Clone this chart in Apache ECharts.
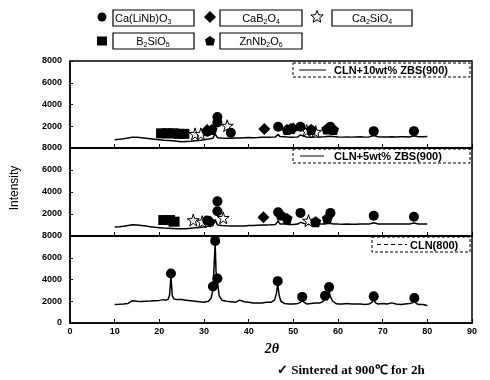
<!DOCTYPE html>
<html><head><meta charset="utf-8">
<script src="https://cdn.jsdelivr.net/npm/echarts@6/dist/echarts.min.js"></script>
<style>html,body{margin:0;padding:0;background:#fff}#c{width:490px;height:380px}</style>
</head><body><div id="c"></div>
<script>
// ---------- DATA ----------
var xTicks = [0,10,20,30,40,50,60,70,80,90];
var yTicks = [0,2000,4000,6000,8000];
var seriesNames = ['CLN+10wt% ZBS(900)','CLN+5wt% ZBS(900)','CLN(800)'];
var phaseNames = ['Ca(LiNb)O3','CaB2O4','Ca2SiO4','B2SiO5','ZnNb2O6'];

// CLN(800)
var cln800X = [10,11,12,13,14,15,16,17,18,19,20,21,21.5,22,22.3,22.6,22.9,23.3,24,25,26,27,28,29,30,31,31.6,32.0,32.3,32.5,32.7,33.0,33.4,34,35,36,37,38,39,40,41,42,43,44,45,45.8,46.2,46.5,46.8,47.2,48,49,50,51,51.6,52,52.4,53,54,55,56,56.7,57.1,57.6,58.0,58.3,58.8,59.5,60,61,62,63,64,65,66,67,67.6,68,68.4,69,70,71,72,73,74,75,76,76.7,77.1,77.5,78,79,80];
var cln800Y = [1700,1720,1750,1800,2050,2000,1980,2000,2020,2050,2080,2150,2100,2200,2600,4300,2500,2200,2150,2150,2100,2050,2000,1950,1900,2000,2300,3100,3000,7300,4700,3800,2500,2100,2000,1950,1900,2100,1950,1900,1850,1850,1850,1900,1900,2100,2700,3600,2600,2000,1800,1750,1750,1800,1900,2150,1900,1750,1800,1850,1850,2000,2300,2100,3000,2400,2000,1800,1750,1750,1800,1750,1750,1750,1700,1750,1900,2200,1850,1750,1800,1750,1850,1750,1700,1750,1800,1850,2050,1800,1700,1700,1600];

// CLN+5wt% ZBS(900)
var cln5X = [10,11,12,13,14,15,16,17,18,19,20,21,22,23,24,25,26,27,28,29,30,31,32,32.5,33,34,35,36,37,38,39,40,41,42,43,44,45,46,46.6,47,48,49,50,51,51.6,52,53,54,55,56,57,58,58.3,59,60,61,62,63,64,65,66,67,68,69,70,71,72,73,74,75,76,77,78,79,80];
var cln5Y = [820,840,880,950,1020,1000,960,900,850,800,760,720,700,680,660,650,660,700,740,780,820,880,950,1500,1000,950,930,920,900,900,920,950,960,980,1000,1000,1020,1050,1350,1100,1080,1050,1050,1080,1250,1080,1060,1050,1070,1080,1100,1150,1300,1100,1080,1070,1080,1060,1070,1080,1090,1100,1200,1100,1080,1090,1100,1080,1090,1100,1100,1180,1100,1090,1100];

// CLN+10wt% ZBS(900)
var cln10X = [10,11,12,13,14,15,16,17,18,19,20,21,22,23,24,25,26,27,28,29,30,31,32,32.5,33,34,35,36,37,38,39,40,41,42,43,44,45,46,46.6,47,48,49,50,51,51.6,52,53,54,55,56,57,58,58.3,59,60,61,62,63,64,65,66,67,68,69,70,71,72,73,74,75,76,77,78,79,80];
var cln10Y = [760,800,850,930,1000,990,950,900,850,800,760,720,690,660,620,580,600,620,660,700,750,820,900,1300,950,920,900,900,920,930,950,960,950,960,980,1000,1000,1020,1250,1050,1030,1000,1000,1020,1200,1030,1000,980,1000,1010,1030,1080,1250,1050,1020,1000,1010,1000,1020,1030,1000,1020,1150,1030,1010,1020,1030,1010,1030,1040,1020,1120,1030,1040,1050];

// phase markers [2theta, intensity] per panel
var m10_CLN  = [[33,2850],[33,2350],[30.7,1500],[36,1400],[46.6,1950],[51.6,1950],[58.3,1950],[68,1550],[77,1550]];
var m10_CaB  = [[30.7,1650],[43.5,1750],[50,1800]];
var m10_CaSi = [[28,1300],[29.3,1300],[35.2,2050],[53,1600],[55,1500]];
var m10_BSi  = [[20.5,1350],[21.8,1350],[23.1,1350],[24.4,1300],[25.5,1300]];
var m10_ZnNb = [[31.8,1700],[48.6,1700],[49.5,1800],[57.5,1750],[59,1700],[54,1700]];

var m5_CLN  = [[33,3150],[33,2250],[30.7,1400],[46.6,2150],[51.6,2100],[58.3,2100],[68,1850],[77,1750]];
var m5_CaB  = [[31.4,1300],[43.3,1700]];
var m5_CaSi = [[27.6,1450],[29.6,1300],[34.3,1650],[53.4,1400]];
var m5_BSi  = [[21,1450],[22.3,1450],[23.3,1300]];
var m5_ZnNb = [[48.6,1600],[57.6,1600],[55,1300],[47.2,1900]];

var m800_CLN = [[22.6,4550],[32.5,7550],[32.0,3350],[33.0,4100],[46.5,3850],[52,2400],[57.1,2500],[58.0,3300],[68,2450],[77.1,2300]];

// ---------- CHART ----------
function zip(a,b){var r=[];for(var i=0;i<a.length;i++)r.push([a[i],b[i]]);return r;}
var STAR='path://M50,0 L61,35 L98,35 L68,57 L79,91 L50,70 L21,91 L32,57 L2,35 L39,35 Z';
var PENT='path://M50,0 L98,36 L80,95 L20,95 L2,36 Z';
var symDef = {
  CLN:{symbol:'circle',size:10,fill:'#000'},
  CaB:{symbol:'diamond',size:12,fill:'#000'},
  CaSi:{symbol:STAR,size:12,fill:'#fff'},
  BSi:{symbol:'rect',size:[11,10],fill:'#000'},
  ZnNb:{symbol:PENT,size:11,fill:'#000'}
};
var grids=[{left:70,right:18,top:61,height:87},{left:70,right:18,top:148,height:88},{left:70,right:18,top:236,height:87}];
var lab={fontFamily:'Liberation Sans',fontWeight:'bold',fontSize:9,color:'#000'};
var xAxes=[],yAxes=[];
for(var g=0;g<3;g++){
  xAxes.push({type:'value',gridIndex:g,min:0,max:90,interval:10,
    axisLine:{lineStyle:{color:'#000',width:1.5}},
    axisTick:{show:true,inside:true,length:4,lineStyle:{color:'#000',width:1}},
    axisLabel:Object.assign({show:g===2,margin:4},lab),splitLine:{show:false}});
  yAxes.push({type:'value',gridIndex:g,min:0,max:8000,interval:2000,
    axisLine:{show:true,lineStyle:{color:'#000',width:1.5}},
    axisTick:{show:true,inside:true,length:3,lineStyle:{color:'#000'}},
    axisLabel:Object.assign({margin:8,formatter:(function(gg){return function(v){if(v===0&&gg<2)return '';return String(v);};})(g)},lab),
    splitLine:{show:false}});
}
function markerSeries(data,key,gi){
  var d=symDef[key];
  return {type:'scatter',xAxisIndex:gi,yAxisIndex:gi,data:data,symbol:d.symbol,symbolSize:d.size,
    itemStyle:{color:d.fill,opacity:1,borderColor:'#000',borderWidth:key==='CaSi'?1:0},z:5,silent:true};
}
function lineSeries(x,y,gi,name){
  return {type:'line',name:name,xAxisIndex:gi,yAxisIndex:gi,data:zip(x,y),showSymbol:false,
    lineStyle:{color:'#000',width:1.5},z:3,silent:true};
}
var series=[
  lineSeries(cln10X,cln10Y,0,seriesNames[0]),
  lineSeries(cln5X,cln5Y,1,seriesNames[1]),
  lineSeries(cln800X,cln800Y,2,seriesNames[2]),
  markerSeries(m10_BSi,'BSi',0),markerSeries(m10_CaSi,'CaSi',0),markerSeries(m10_ZnNb,'ZnNb',0),markerSeries(m10_CaB,'CaB',0),markerSeries(m10_CLN,'CLN',0),
  markerSeries(m5_BSi,'BSi',1),markerSeries(m5_CaSi,'CaSi',1),markerSeries(m5_ZnNb,'ZnNb',1),markerSeries(m5_CaB,'CaB',1),markerSeries(m5_CLN,'CLN',1),
  markerSeries(m800_CLN,'CLN',2)
];

// legend graphics
var rich={n:{fontFamily:'Liberation Sans',fontSize:11,color:'#000'},s:{fontFamily:'Liberation Sans',fontSize:7,color:'#000',padding:[6,0,0,0]}};
function chemRich(str){
  var out='';var parts=str.split(/(\d)/);
  parts.forEach(function(p){if(p==='')return; if(/^\d$/.test(p))out+='{s|'+p+'}'; else out+='{n|'+p+'}';});
  return out;
}
var graphics=[];
function phaseBox(x,y,w,h,name,textX,align){
  graphics.push({type:'rect',shape:{x:x,y:y,width:w,height:h},style:{fill:'#fff',stroke:'#000',lineWidth:1.2}});
  graphics.push({type:'text',x:textX,y:y+h/2+1,style:{text:chemRich(name),rich:rich,textAlign:align,textVerticalAlign:'middle'}});
}
function starPts(cx,cy,R,r){var p=[];for(var i=0;i<10;i++){var a=-Math.PI/2+i*Math.PI/5;var rr=i%2?r:R;p.push([cx+rr*Math.cos(a),cy+rr*Math.sin(a)]);}return p;}
function legendSym(cx,cy,key){
  if(key==='CLN') graphics.push({type:'circle',shape:{cx:cx,cy:cy,r:4.5},style:{fill:'#000'}});
  if(key==='CaB') graphics.push({type:'polygon',shape:{points:[[cx,cy-6],[cx+6,cy],[cx,cy+6],[cx-6,cy]]},style:{fill:'#000'}});
  if(key==='CaSi') graphics.push({type:'polygon',shape:{points:starPts(cx,cy,6.5,2.8)},style:{fill:'#fff',stroke:'#000',lineWidth:1}});
  if(key==='BSi') graphics.push({type:'rect',shape:{x:cx-5,y:cy-4.5,width:10,height:9},style:{fill:'#000'}});
  if(key==='ZnNb') graphics.push({type:'polygon',shape:{points:[[cx,cy-5],[cx+5,cy-1.5],[cx+3.5,cy+4.5],[cx-3.5,cy+4.5],[cx-5,cy-1.5]]},style:{fill:'#000'}});
}

legendSym(102,17,'CLN'); phaseBox(113,10,81,16,phaseNames[0],115,'left');
legendSym(210,17,'CaB'); phaseBox(220,10,82,16,phaseNames[1],261,'center');
legendSym(317,17,'CaSi'); phaseBox(332,10,80,16,phaseNames[2],372,'center');
legendSym(102,41,'BSi'); phaseBox(113,33,81,16,phaseNames[3],153,'center');
legendSym(210,41,'ZnNb'); phaseBox(220,33,82,16,phaseNames[4],261,'center');

function seriesLegend(x,y,w,h,name,lineDash,lx1,lx2,tx){
  graphics.push({type:'rect',shape:{x:x,y:y,width:w,height:h},style:{fill:'#fff',stroke:'#000',lineWidth:1,lineDash:[3,2]},z:10});
  graphics.push({type:'line',shape:{x1:lx1,y1:y+h/2,x2:lx2,y2:y+h/2},style:{stroke:'#000',lineWidth:1,lineDash:lineDash},z:11});
  graphics.push({type:'text',x:tx,y:y+h/2+1,style:{text:name,fontFamily:'Liberation Sans',fontWeight:'bold',fontSize:11,fill:'#000',textVerticalAlign:'middle'},z:11});
}
seriesLegend(293,63,177,14,seriesNames[0],null,299,326,334);
seriesLegend(293,149,177,14,seriesNames[1],null,300,324,334);
seriesLegend(372,237,98,15,seriesNames[2],[4,3],377,407,410);

graphics.push({type:'text',x:15,y:188,rotation:Math.PI/2,style:{text:'Intensity',fontFamily:'Liberation Sans',fontSize:12,fill:'#000',textAlign:'center',textVerticalAlign:'middle'}});
graphics.push({type:'text',x:272,y:349,style:{text:'2θ',fontFamily:'Liberation Serif',fontWeight:'bold',fontStyle:'italic',fontSize:14,fill:'#000',textAlign:'center',textVerticalAlign:'middle'}});
graphics.push({type:'text',x:277,y:371,style:{text:'✓ Sintered at 900℃ for 2h',fontFamily:'Liberation Serif',fontWeight:'bold',fontSize:13,fill:'#000',textVerticalAlign:'middle'}});

var chart=echarts.init(document.getElementById('c'),null,{renderer:'canvas'});
chart.setOption({
  animation:false,backgroundColor:'#fff',
  grid:grids.map(function(g){return Object.assign({show:true,borderColor:'#000',borderWidth:1.5,backgroundColor:'transparent'},g);}),
  xAxis:xAxes,yAxis:yAxes,series:series,graphic:graphics
});
</script></body></html>
